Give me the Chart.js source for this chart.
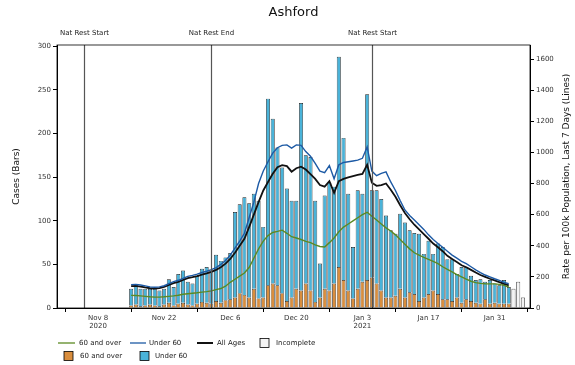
<!DOCTYPE html>
<html><head><meta charset="utf-8">
<script src="https://cdn.jsdelivr.net/npm/chart.js@4/dist/chart.umd.min.js"></script>
<style>html,body{margin:0;padding:0;background:#fff}#wrap{width:575px;height:365px;position:relative}</style>
</head><body><div id="wrap"><canvas id="c" width="575" height="365"></canvas></div>
<script>
// ---- data ----
const firstBarDate = '2020-11-15';            // first complete day
const cases60Plus = [3,4,2,3,4,3,2,4,6,3,5,6,4,3,5,7,6,5,8,6,9,10,12,17,15,12,22,11,12,26,28,26,17,8,12,22,20,28,20,7,12,22,20,28,47,32,20,11,22,30,32,35,28,20,12,12,14,22,12,18,16,8,12,16,20,16,10,10,8,12,6,10,8,6,5,10,5,6,5,5,5];
const casesUnder60 = [19,23,20,19,18,19,18,18,27,21,34,37,26,25,32,38,41,38,53,48,49,53,98,102,112,108,109,112,81,214,189,158,144,129,111,101,215,147,153,116,39,107,124,111,241,163,111,59,113,101,213,100,107,105,94,77,71,86,86,71,70,77,50,61,42,58,60,46,48,27,41,37,29,26,28,20,27,22,21,27,19];
const firstIncompleteDate = '2021-02-04';
const casesIncomplete = [22,30,12];
const rate60Plus = [81,80,78,75,72,70,70,72,75,78,82,88,92,95,98,102,105,110,118,125,140,165,185,205,225,260,320,380,430,465,485,492,500,480,458,450,440,428,420,405,395,392,420,450,490,520,540,560,580,600,615,590,565,540,515,495,470,440,410,380,355,340,325,312,300,285,265,248,232,215,200,185,172,163,158,156,155,155,152,145,135];
const rateUnder60 = [150,152,148,142,136,133,136,143,157,170,178,190,203,210,218,228,236,246,260,280,305,340,385,430,480,580,680,800,880,940,995,1030,1045,1048,1027,1048,1045,1005,975,930,880,870,915,830,920,935,940,945,950,962,1035,880,850,865,875,810,755,690,630,595,565,535,505,470,440,415,390,365,340,320,300,285,265,245,228,212,200,188,177,165,156];
const rateAllAges = [140,142,138,132,127,125,128,135,148,160,168,180,192,198,205,215,222,232,245,262,285,315,355,400,445,520,600,680,755,810,862,905,918,912,876,898,908,890,860,830,790,780,815,740,815,830,840,848,855,862,920,805,785,790,800,760,715,660,610,570,535,505,475,445,414,390,365,335,315,295,275,262,245,228,212,200,188,177,166,155,145];
const xTickDates = ['2020-11-08','2020-11-22','2020-12-06','2020-12-20','2021-01-03','2021-01-17','2021-01-31'];
const xTickLabels = [['Nov 8','2020'],['Nov 22'],['Dec 6'],['Dec 20'],['Jan 3','2021'],['Jan 17'],['Jan 31']];
const leftTicks = [0,50,100,150,200,250,300];
const rightTicks = [0,200,400,600,800,1000,1200,1400,1600];
const restrictionDates = ['2020-11-05','2020-12-02','2021-01-05'];
const restrictionLabels = ['Nat Rest Start','Nat Rest End','Nat Rest Start'];

// ---- helpers ----
const EPOCH = Date.UTC(2020,10,8);
function dayNum(s){const [y,m,d]=s.split('-').map(Number);return Math.round((Date.UTC(y,m-1,d)-EPOCH)/86400000);}
const d0 = dayNum(firstBarDate), di0 = dayNum(firstIncompleteDate);
const pts = (arr,start)=>arr.map((v,i)=>({x:start+i,y:v}));
const tickDays = xTickDates.map(dayNum);

const FONT = "'DejaVu Sans', sans-serif";
const C_OR = '#d98e3e', C_BL = '#4ab3d9';
const L_GR = '#5b8a23', L_BL = '#1d5aa5', L_BK = '#111111';

const deco = {
  id:'deco',
  afterDatasetsDraw(chart){
    const {ctx, chartArea:a, scales} = chart;
    ctx.save();
    restrictionDates.forEach((d,i)=>{
      const x = Math.round(scales.x.getPixelForValue(dayNum(d)))+0.5;
      ctx.strokeStyle='#555'; ctx.lineWidth=1.2;
      ctx.beginPath(); ctx.moveTo(x,a.top); ctx.lineTo(x,a.bottom); ctx.stroke();
      ctx.fillStyle='#222'; ctx.font='7px '+FONT; ctx.textAlign='center'; ctx.textBaseline='middle';
      ctx.fillText(restrictionLabels[i], x, 33);
    });
    ctx.strokeStyle='#000'; ctx.lineWidth=0.8;
    ctx.strokeRect(a.left, a.top, a.right-a.left, a.bottom-a.top);
    ctx.restore();
  },
  afterDraw(chart){
    const {ctx, chartArea:a} = chart;
    ctx.save();
    ctx.fillStyle='#111'; ctx.textBaseline='middle';
    ctx.font='13px '+FONT; ctx.textAlign='center';
    ctx.fillText('Ashford', (a.left+a.right)/2, 13);
    ctx.font='9px '+FONT;
    ctx.save(); ctx.translate(17,(a.top+a.bottom)/2); ctx.rotate(-Math.PI/2);
    ctx.fillText('Cases (Bars)',0,0); ctx.restore();
    ctx.save(); ctx.translate(567,(a.top+a.bottom)/2); ctx.rotate(-Math.PI/2);
    ctx.fillText('Rate per 100k Population, Last 7 Days (Lines)',0,0); ctx.restore();
    ctx.font='7px '+FONT; ctx.textAlign='left';
    const line=(x1,x2,y,c,w)=>{ctx.strokeStyle=c;ctx.lineWidth=w;ctx.beginPath();ctx.moveTo(x1,y);ctx.lineTo(x2,y);ctx.stroke();};
    const box=(x,y,c)=>{ctx.fillStyle=c;ctx.fillRect(x,y-4.5,9,9);ctx.strokeStyle='#000';ctx.lineWidth=0.8;ctx.strokeRect(x,y-4.5,9,9);};
    const txt=(t,x,y)=>{ctx.fillStyle='#222';ctx.fillText(t,x,y);};
    const r1=343, r2=356;
    line(58,75,r1,L_GR,1.3); txt('60 and over',79,r1);
    line(130,146,r1,L_BL,1.3); txt('Under 60',149,r1);
    line(197,213,r1,L_BK,2); txt('All Ages',217,r1);
    box(260,r1,'#f4f4f4'); txt('Incomplete',276,r1);
    box(64,r2,C_OR); txt('60 and over',80,r2);
    box(140,r2,C_BL); txt('Under 60',155,r2);
    ctx.restore();
  }
};

const tickMap = {}; tickDays.forEach((d,i)=>tickMap[d]=xTickLabels[i]);
const barCommon = {borderColor:'#1a1a1a', borderWidth:0.7, barPercentage:0.85, categoryPercentage:1, yAxisID:'y', stack:'s', order:2};
const lineCommon = {type:'line', yAxisID:'y2', pointRadius:0, tension:0, fill:false, order:0, borderWidth:1.4};
const plain = (v)=>String(v);

new Chart(document.getElementById('c'), {
  type:'bar',
  data:{datasets:[
    {...barCommon, label:'60 and over', data:pts(cases60Plus,d0), backgroundColor:C_OR},
    {...barCommon, label:'Under 60', data:pts(casesUnder60,d0), backgroundColor:C_BL},
    {...barCommon, label:'Incomplete', data:pts(casesIncomplete,di0), backgroundColor:'#f4f4f4'},
    {...lineCommon, label:'60 and over', data:pts(rate60Plus,d0), borderColor:L_GR},
    {...lineCommon, label:'Under 60', data:pts(rateUnder60,d0), borderColor:L_BL},
    {...lineCommon, label:'All Ages', data:pts(rateAllAges,d0), borderColor:L_BK, borderWidth:1.8}
  ]},
  options:{
    responsive:false, animation:false, devicePixelRatio:1,
    layout:{padding:{top:45,left:0,right:0,bottom:0}},
    plugins:{legend:{display:false}, title:{display:false}, tooltip:{enabled:false}},
    scales:{
      x:{type:'linear', min:-8.7, max:91.5, stacked:true, offset:false,
         grid:{drawOnChartArea:false, tickLength:4, color:'#000'}, border:{color:'#000'},
         ticks:{font:{size:7, family:FONT}, color:'#333', autoSkip:false, maxRotation:0, padding:2,
                callback:(v)=>tickMap[v]||''},
         afterBuildTicks:(s)=>{s.ticks=tickDays.map(v=>({value:v}));},
         afterFit:(s)=>{s.height=57;}},
      y:{position:'left', stacked:true, min:0, max:301.5,
         grid:{drawOnChartArea:false, tickLength:4, color:'#000'}, border:{color:'#000'},
         ticks:{font:{size:7, family:FONT}, color:'#333', padding:2, callback:plain},
         afterBuildTicks:(s)=>{s.ticks=leftTicks.map(v=>({value:v}));},
         afterFit:(s)=>{s.width=57;}},
      y2:{position:'right', min:0, max:1690,
         grid:{drawOnChartArea:false, tickLength:4, color:'#000'}, border:{color:'#000'},
         ticks:{font:{size:7, family:FONT}, color:'#333', padding:2, callback:plain},
         afterBuildTicks:(s)=>{s.ticks=rightTicks.map(v=>({value:v}));},
         afterFit:(s)=>{s.width=45;}}
    }
  },
  plugins:[deco]
});
</script></body></html>
